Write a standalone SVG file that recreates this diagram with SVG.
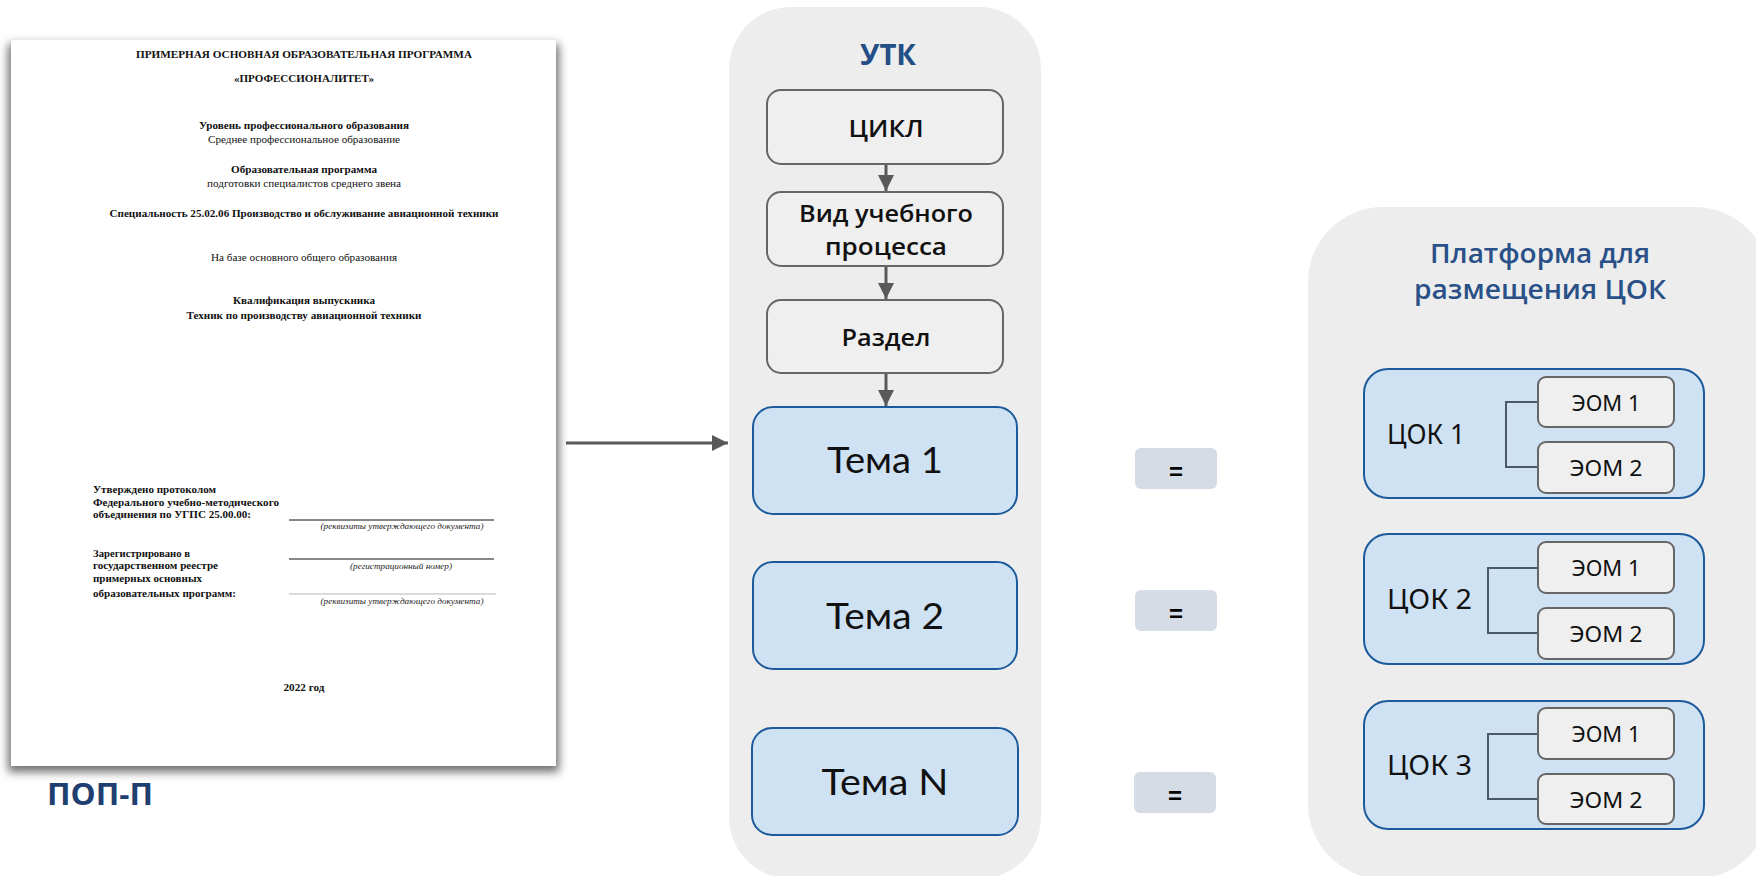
<svg xmlns="http://www.w3.org/2000/svg" width="1756" height="876" viewBox="0 0 1756 876">
  <defs>
    <filter id="pageShadow" x="-10%" y="-10%" width="120%" height="120%">
      <feGaussianBlur stdDeviation="5"/>
    </filter>
    <marker id="arrow" viewBox="0 0 10 10" refX="10" refY="5" markerWidth="16" markerHeight="16" markerUnits="userSpaceOnUse" orient="auto">
      <path d="M0,0 L10,5 L0,10 z" fill="#595959"/>
    </marker>
    <style>
      .panel { fill: #ededed; }
      .gbox { fill: #efefef; stroke: #666666; stroke-width: 2; }
      .bbox { fill: #cfe2f3; stroke: #1c5a9c; stroke-width: 2; }
      .eq { fill: #d6dce5; }
      .flow { stroke: #595959; stroke-width: 3; fill: none; }
      .bracket { stroke: #4b5966; stroke-width: 2; fill: none; }
      .title { font-family: "Open Sans", "Noto Sans", sans-serif; font-weight: 700; fill: #234e86; text-anchor: middle; }
      .subtitle { font-family: "Open Sans", "Noto Sans", sans-serif; font-weight: 600; font-size: 27px; fill: #2a5088; text-anchor: middle; }
      .step { font-family: "Open Sans", "Noto Sans", sans-serif; font-weight: 600; font-size: 24px; fill: #111; text-anchor: middle; }
      .topic { font-family: "Lato", "Noto Sans", sans-serif; font-weight: 400; font-size: 37px; fill: #111; text-anchor: middle; }
      .cok { font-family: "Noto Sans", sans-serif; font-weight: 400; font-size: 28px; fill: #111; }
      .eom { font-family: "Noto Sans", sans-serif; font-weight: 400; font-size: 21px; fill: #111; text-anchor: middle; }
      .eqt { font-family: "Liberation Sans", sans-serif; font-weight: 700; font-size: 24px; fill: #000; text-anchor: middle; }
      .doc { font-family: "Liberation Serif", serif; font-size: 11px; fill: #111; }
      .docb { font-family: "Liberation Serif", serif; font-size: 11px; font-weight: 700; fill: #111; }
      .doci { font-family: "Liberation Serif", serif; font-size: 8px; font-style: italic; fill: #222; text-anchor: middle; }
      .c { text-anchor: middle; }
    </style>
  </defs>

  <rect width="1756" height="876" fill="#ffffff"/>

  <!-- Document page (ПОП-П) -->
  <g id="pop-document">
    <rect x="8" y="44" width="551" height="728" fill="#6e6e6e" filter="url(#pageShadow)"/>
    <rect x="11" y="40" width="545" height="726" fill="#ffffff"/>
    <text class="docb c" x="304" y="58" textLength="336" lengthAdjust="spacingAndGlyphs">ПРИМЕРНАЯ ОСНОВНАЯ ОБРАЗОВАТЕЛЬНАЯ ПРОГРАММА</text>
    <text class="docb c" x="304" y="82" textLength="140" lengthAdjust="spacingAndGlyphs">«ПРОФЕССИОНАЛИТЕТ»</text>
    <text class="docb c" x="304" y="129" textLength="210" lengthAdjust="spacingAndGlyphs">Уровень профессионального образования</text>
    <text class="doc c" x="304" y="143" textLength="192" lengthAdjust="spacingAndGlyphs">Среднее профессиональное образование</text>
    <text class="docb c" x="304" y="173" textLength="146" lengthAdjust="spacingAndGlyphs">Образовательная программа</text>
    <text class="doc c" x="304" y="187" textLength="194" lengthAdjust="spacingAndGlyphs">подготовки специалистов среднего звена</text>
    <text class="docb c" x="304" y="217" textLength="389" lengthAdjust="spacingAndGlyphs">Специальность 25.02.06 Производство и обслуживание авиационной техники</text>
    <text class="doc c" x="304" y="261" textLength="186" lengthAdjust="spacingAndGlyphs">На базе основного общего образования</text>
    <text class="docb c" x="304" y="304" textLength="142" lengthAdjust="spacingAndGlyphs">Квалификация выпускника</text>
    <text class="docb c" x="304" y="319" textLength="235" lengthAdjust="spacingAndGlyphs">Техник по производству авиационной техники</text>

    <text class="docb" x="93" y="493" textLength="123" lengthAdjust="spacingAndGlyphs">Утверждено протоколом</text>
    <text class="docb" x="93" y="506" textLength="186" lengthAdjust="spacingAndGlyphs">Федерального учебно-методического</text>
    <text class="docb" x="93" y="518" textLength="158" lengthAdjust="spacingAndGlyphs">объединения по УГПС 25.00.00:</text>
    <line x1="289" y1="520" x2="494" y2="520" stroke="#111" stroke-width="1"/>
    <text class="doci" x="402" y="529" textLength="163" lengthAdjust="spacingAndGlyphs">(реквизиты утверждающего документа)</text>

    <text class="docb" x="93" y="557" textLength="97" lengthAdjust="spacingAndGlyphs">Зарегистрировано в</text>
    <text class="docb" x="93" y="569" textLength="125" lengthAdjust="spacingAndGlyphs">государственном реестре</text>
    <text class="docb" x="93" y="582" textLength="109" lengthAdjust="spacingAndGlyphs">примерных основных</text>
    <text class="docb" x="93" y="597" textLength="143" lengthAdjust="spacingAndGlyphs">образовательных программ:</text>
    <line x1="289" y1="559" x2="494" y2="559" stroke="#111" stroke-width="1"/>
    <text class="doci" x="401" y="569" textLength="102" lengthAdjust="spacingAndGlyphs">(регистрационный номер)</text>
    <line x1="289" y1="594" x2="496" y2="594" stroke="#999" stroke-width="0.7"/>
    <text class="doci" x="402" y="604" textLength="163" lengthAdjust="spacingAndGlyphs">(реквизиты утверждающего документа)</text>

    <text class="docb c" x="304" y="691" textLength="41" lengthAdjust="spacingAndGlyphs">2022 год</text>
  </g>

  <g id="pop-label">
    <text x="47" y="805" font-family="'Open Sans', 'Noto Sans', sans-serif" font-weight="700" font-size="31" fill="#1f3f70" textLength="106" lengthAdjust="spacingAndGlyphs">ПОП-П</text>
  </g>

  <!-- УТК panel -->
  <g id="utk-panel">
    <rect class="panel" x="729" y="7" width="312" height="872" rx="62"/>
    <text class="title" x="888" y="65" font-size="28" textLength="56" lengthAdjust="spacingAndGlyphs">УТК</text>
  </g>

  <g id="node-cycle">
    <rect class="gbox" x="767" y="90" width="236" height="74" rx="14"/>
    <text class="step" x="886" y="137" textLength="75" lengthAdjust="spacingAndGlyphs">ЦИКЛ</text>
  </g>
  <g id="node-process">
    <rect class="gbox" x="767" y="192" width="236" height="74" rx="14"/>
    <text class="step" x="886" y="222" textLength="174" lengthAdjust="spacingAndGlyphs">Вид учебного</text>
    <text class="step" x="886" y="255" textLength="122" lengthAdjust="spacingAndGlyphs">процесса</text>
  </g>
  <g id="node-section">
    <rect class="gbox" x="767" y="300" width="236" height="73" rx="14"/>
    <text class="step" x="886" y="346" textLength="89" lengthAdjust="spacingAndGlyphs">Раздел</text>
  </g>
  <g id="node-topic-1">
    <rect class="bbox" x="753" y="407" width="264" height="107" rx="20"/>
    <text class="topic" x="885" y="473" textLength="116" lengthAdjust="spacingAndGlyphs">Тема 1</text>
  </g>
  <g id="node-topic-2">
    <rect class="bbox" x="753" y="562" width="264" height="107" rx="20"/>
    <text class="topic" x="885" y="629" textLength="118" lengthAdjust="spacingAndGlyphs">Тема 2</text>
  </g>
  <g id="node-topic-n">
    <rect class="bbox" x="752" y="728" width="266" height="107" rx="20"/>
    <text class="topic" x="885" y="795" textLength="127" lengthAdjust="spacingAndGlyphs">Тема N</text>
  </g>

  <!-- Equality badges -->
  <g id="eq-1">
    <rect class="eq" x="1135" y="448" width="82" height="41" rx="6"/>
    <text class="eqt" x="1176" y="480">=</text>
  </g>
  <g id="eq-2">
    <rect class="eq" x="1135" y="590" width="82" height="41" rx="6"/>
    <text class="eqt" x="1176" y="622">=</text>
  </g>
  <g id="eq-3">
    <rect class="eq" x="1134" y="772" width="82" height="41" rx="6"/>
    <text class="eqt" x="1175" y="804">=</text>
  </g>

  <!-- Platform panel -->
  <g id="platform-panel">
    <rect class="panel" x="1308" y="207" width="462" height="672" rx="75"/>
    <text class="subtitle" x="1540" y="263" textLength="220" lengthAdjust="spacingAndGlyphs">Платформа для</text>
    <text class="subtitle" x="1540" y="299" textLength="252" lengthAdjust="spacingAndGlyphs">размещения ЦОК</text>
  </g>

  <g id="cok-1">
    <rect class="bbox" x="1364" y="369" width="340" height="129" rx="24"/>
    <text class="cok" x="1387" y="444" textLength="78" lengthAdjust="spacingAndGlyphs">ЦОК 1</text>
    <path class="bracket" d="M1538,402 H1506 V467 H1538"/>
    <rect class="gbox" x="1538" y="377" width="136" height="50" rx="8"/>
    <text class="eom" x="1606" y="411" textLength="69" lengthAdjust="spacingAndGlyphs">ЭОМ 1</text>
    <rect class="gbox" x="1538" y="442" width="136" height="51" rx="8"/>
    <text class="eom" x="1606" y="476" textLength="73" lengthAdjust="spacingAndGlyphs">ЭОМ 2</text>
  </g>
  <g id="cok-2">
    <rect class="bbox" x="1364" y="534" width="340" height="130" rx="24"/>
    <text class="cok" x="1387" y="609" textLength="85" lengthAdjust="spacingAndGlyphs">ЦОК 2</text>
    <path class="bracket" d="M1538,568 H1488 V633 H1538"/>
    <rect class="gbox" x="1538" y="542" width="136" height="51" rx="8"/>
    <text class="eom" x="1606" y="576" textLength="69" lengthAdjust="spacingAndGlyphs">ЭОМ 1</text>
    <rect class="gbox" x="1538" y="608" width="136" height="51" rx="8"/>
    <text class="eom" x="1606" y="642" textLength="73" lengthAdjust="spacingAndGlyphs">ЭОМ 2</text>
  </g>
  <g id="cok-3">
    <rect class="bbox" x="1364" y="701" width="340" height="128" rx="24"/>
    <text class="cok" x="1387" y="775" textLength="85" lengthAdjust="spacingAndGlyphs">ЦОК 3</text>
    <path class="bracket" d="M1538,734 H1488 V799 H1538"/>
    <rect class="gbox" x="1538" y="708" width="136" height="51" rx="8"/>
    <text class="eom" x="1606" y="742" textLength="69" lengthAdjust="spacingAndGlyphs">ЭОМ 1</text>
    <rect class="gbox" x="1538" y="774" width="136" height="50" rx="8"/>
    <text class="eom" x="1606" y="808" textLength="73" lengthAdjust="spacingAndGlyphs">ЭОМ 2</text>
  </g>

  <!-- Connectors -->
  <g id="connectors">
    <line class="flow" x1="566" y1="443" x2="728" y2="443" marker-end="url(#arrow)"/>
    <line class="flow" x1="886" y1="165" x2="886" y2="191" marker-end="url(#arrow)"/>
    <line class="flow" x1="886" y1="267" x2="886" y2="299" marker-end="url(#arrow)"/>
    <line class="flow" x1="886" y1="374" x2="886" y2="406" marker-end="url(#arrow)"/>
  </g>
</svg>
